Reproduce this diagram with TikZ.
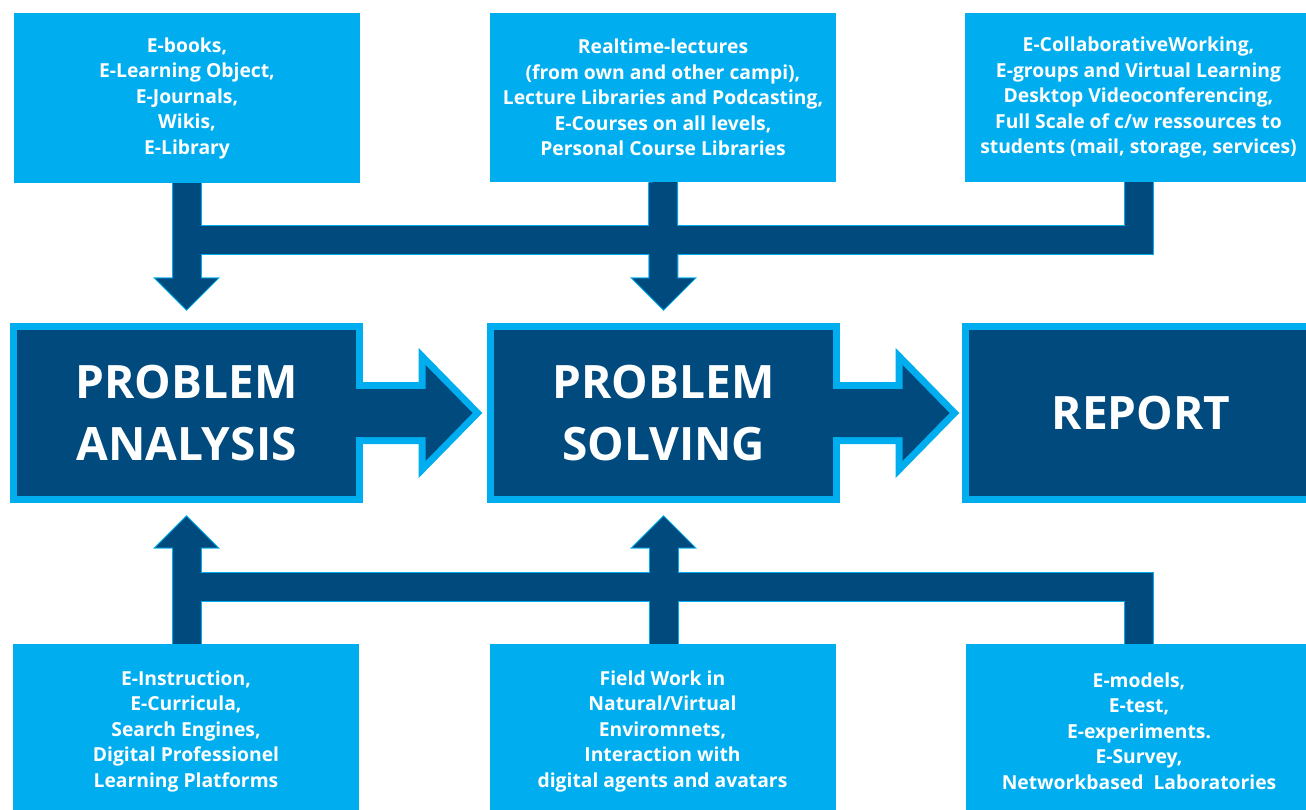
\documentclass[tikz,border=0pt]{standalone}
\usepackage{fontspec}
\setmainfont{Open Sans}
\usetikzlibrary{calc}
\definecolor{lb}{RGB}{0,174,239}
\definecolor{db}{RGB}{0,74,126}
\pgfdeclarelayer{bg}
\pgfdeclarelayer{fg}
\pgfsetlayers{bg,main,fg}
\begin{document}
\begin{tikzpicture}[x=1pt,y=-1pt,
  src/.style={rectangle, fill=lb, text=white, font=\bfseries\fontsize{19.3}{25.5}\selectfont, align=center, inner sep=0pt, minimum width=346pt},
  stage/.style={rectangle, fill=db, draw=lb, line width=7pt, text=white, font=\bfseries\fontsize{46}{62}\selectfont, align=center, minimum width=346pt, minimum height=173pt, inner sep=0pt},
  barlight/.style={draw=lb, line width=30pt, line join=miter},
  bardark/.style={draw=db, line width=28pt, line join=miter},
  headlight/.style={draw=lb, line width=2pt, fill=db, line join=miter},
  headdark/.style={fill=db},
  stageedge/.style={draw=lb, line width=14pt, line join=miter},
  stagefill/.style={fill=db},
]
\useasboundingbox (0,0) rectangle (1306,810);
\clip (0,0) rectangle (1306,810);

% source boxes
\node[src, minimum height=170pt] (tl) at (187,98) {E-books,\\E-Learning Object,\\E-Journals,\\Wikis,\\E-Library};
\node[src, minimum height=169pt] (tm) at (663,97.5) {Realtime-lectures\\(from own and other campi),\\Lecture Libraries and Podcasting,\\E-Courses on all levels,\\Personal Course Libraries};
\node[src, minimum height=169pt, minimum width=347pt] (tr) at (1138.5,97.5) {E-CollaborativeWorking,\\E-groups and Virtual Learning\\Desktop Videoconferencing,\\Full Scale of c/w ressources to\\students (mail, storage, services)};
\node[src, minimum height=174pt] (bl) at (186,731) {E-Instruction,\\E-Curricula,\\Search Engines,\\Digital Professionel\\Learning Platforms};
\node[src, minimum height=174pt] (bm) at (662.5,731) {Field Work in\\Natural/Virtual\\Enviromnets,\\Interaction with\\digital agents and avatars};
\node[src, minimum height=174pt, minimum width=347pt] (br) at (1139,731) {E-models,\\E-test,\\E-experiments.\\E-Survey,\\Networkbased\ \ Laboratories};

% stages
\node[stage] (pa) at (186.5,413) {PROBLEM\\ANALYSIS};
\node[stage] (ps) at (663.5,413) {PROBLEM\\SOLVING};
\node[stage, minimum width=351pt] (rp) at (1141,413) {REPORT};

% stage arrows
\begin{pgfonlayer}{bg}
\foreach \s in {stageedge,stagefill}{
  \foreach \n in {pa,ps}{
    \path[\s] ($(\n.east)+(-10,-24)$) -- ($(\n.east)+(62.5,-24)$) -- ($(\n.east)+(62.5,-48)$) -- ($(\n.east)+(109.5,0)$) -- ($(\n.east)+(62.5,48)$) -- ($(\n.east)+(62.5,24)$) -- ($(\n.east)+(-10,24)$) -- cycle;
  }
}
\end{pgfonlayer}
\begin{pgfonlayer}{fg}
\foreach \n in {pa,ps}{
  \fill[db] ($(\n.east)+(-8,-24)$) rectangle ($(\n.east)+(64,24)$);
}
\end{pgfonlayer}

% connectors
\coordinate (ht) at (0,240.5);
\coordinate (hb) at (0,586.5);
\foreach \b/\h in {barlight/headlight, bardark/headdark}{
  % top
  \draw[\b] (tr.south) -- (tr.south |- ht) -- (pa.north |- ht);
  \draw[\b] (pa.north |- tl.south) -- ($(pa.north)+(0,-42)$);
  \draw[\b] (tm.south) -- ($(ps.north)+(0,-42)$);
  \path[\h] ($(pa.north)+(0,-13.5)$) -- ++(-31,-31) -- ++(62,0) -- cycle;
  \path[\h] ($(ps.north)+(0,-13.5)$) -- ++(-31,-31) -- ++(62,0) -- cycle;
  % bottom
  \draw[\b] (br.north) -- (br.north |- hb) -- (pa.south |- hb);
  \draw[\b] (pa.south |- bl.north) -- ($(pa.south)+(0,42)$);
  \draw[\b] (ps.south |- bm.north) -- ($(ps.south)+(0,42)$);
  \path[\h] ($(pa.south)+(0,13.5)$) -- ++(-31,31) -- ++(62,0) -- cycle;
  \path[\h] ($(ps.south)+(0,13.5)$) -- ++(-31,31) -- ++(62,0) -- cycle;
}
\end{tikzpicture}
\end{document}
